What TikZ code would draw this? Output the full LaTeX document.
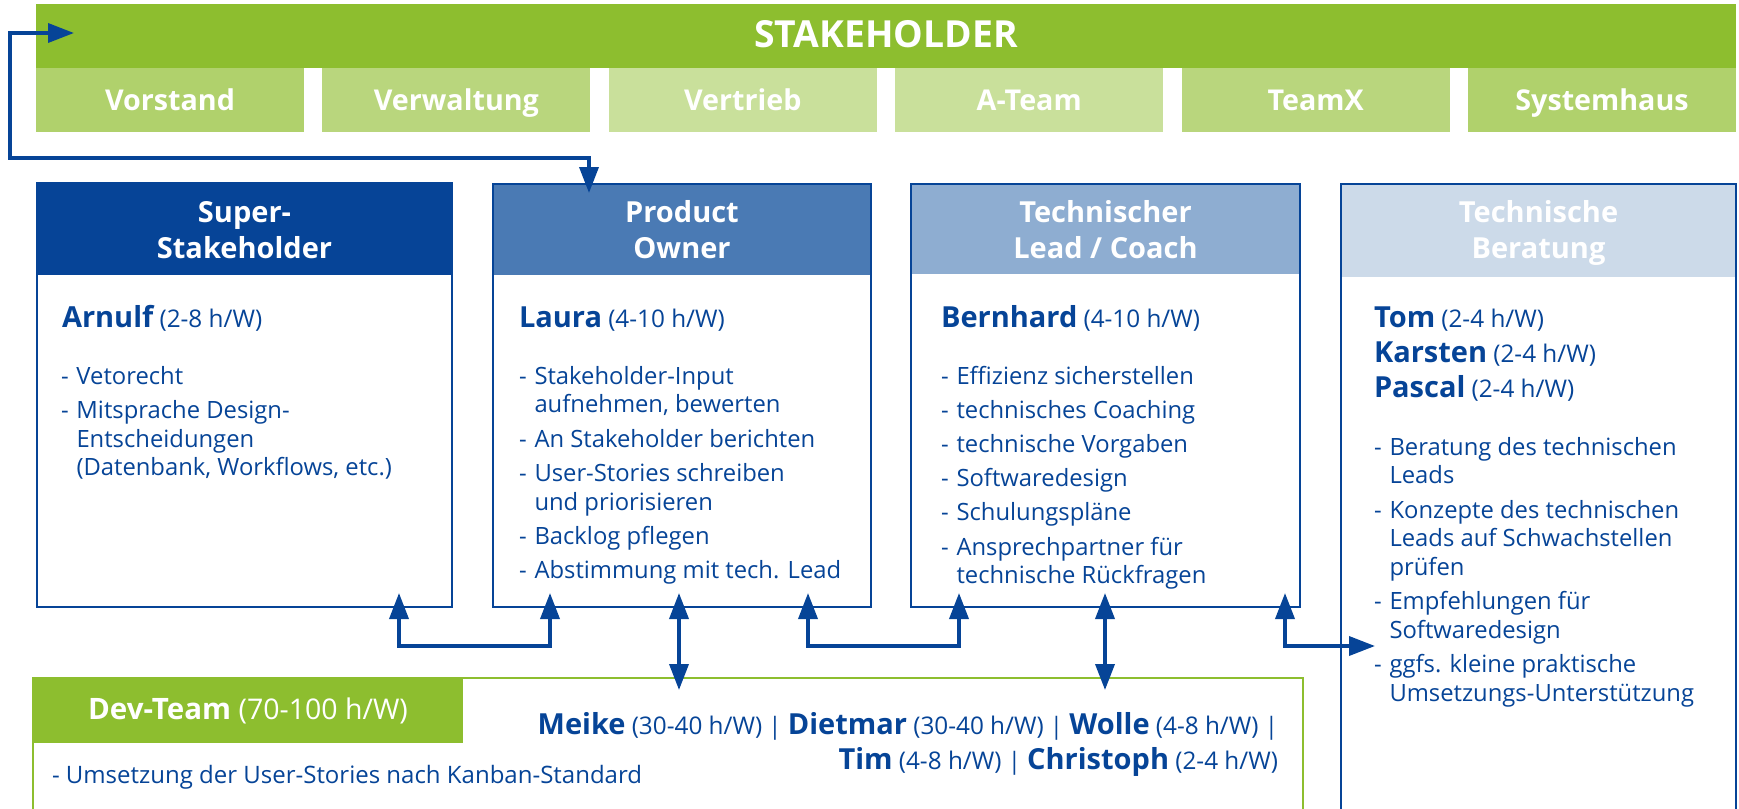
\documentclass[tikz,border=0pt]{standalone}
\usepackage{fontspec}
\setmainfont{Open Sans}
\usetikzlibrary{arrows.meta}

\definecolor{sgreen}{RGB}{141,190,47}
\definecolor{subA}{RGB}{176,209,108}
\definecolor{subB}{RGB}{185,214,125}
\definecolor{subC}{RGB}{201,224,155}
\definecolor{dblue}{RGB}{6,68,151}
\definecolor{mblue}{RGB}{74,122,180}
\definecolor{lblue}{RGB}{142,173,209}
\definecolor{pblue}{RGB}{204,218,233}

% a name in bold followed by its weekly hours
\newcommand\who[2]{{\fontsize{29}{34}\selectfont\bfseries #1} {\fontsize{24.3}{28}\selectfont(#2 h/W)}}
% one dash item of a list; continuation lines hang under the text
\newcommand\li[1]{\par\hangindent=15.5pt\hangafter=1\noindent\makebox[15.5pt][l]{-}#1}
\newcommand\dashlist[1]{\parbox[t]{420pt}{\fontsize{23.8}{28.8}\selectfont\parskip=5.4pt #1}}
\newcommand\hdtext[1]{\parbox[t]{400pt}{\centering\fontsize{29}{36}\selectfont\bfseries #1}}

\begin{document}
\begin{tikzpicture}[x=1pt,y=-1pt,
  every node/.style={inner sep=0pt, outer sep=0pt},
  bar/.style={anchor=north west, fill=sgreen, minimum width=1700pt, minimum height=64pt,
    text=white, font=\fontsize{37.3}{44}\selectfont\bfseries, text height=30pt, text depth=6pt},
  sub/.style={anchor=north west, minimum width=268pt, minimum height=64pt, text=white,
    font=\fontsize{28.7}{34}\selectfont\bfseries, text height=26pt, text depth=6pt},
  card/.style={anchor=north west, draw=dblue, line width=1.8pt},
  head/.style={anchor=north west, minimum height=91pt},
  htext/.style={anchor=base, text=white},
  body/.style={anchor=base west, text=dblue, font=\fontsize{23.8}{28.8}\selectfont},
  link/.style={draw=dblue, line width=3.6pt,
    {Triangle[length=26pt,width=19pt]}-{Triangle[length=26pt,width=19pt]}},
]
\useasboundingbox (0,0) rectangle (1739,808);

% stakeholder bar and its groups
\node[bar] (stk) at (36,4) {STAKEHOLDER};
\node[sub, fill=subA] (vorstand)   at (36,68)     {Vorstand};
\node[sub, fill=subB] (verwaltung) at (322.4,68)  {Verwaltung};
\node[sub, fill=subC] (vertrieb)   at (608.8,68)  {Vertrieb};
\node[sub, fill=subC] (ateam)      at (895.2,68)  {A-Team};
\node[sub, fill=subB] (teamx)      at (1181.6,68) {TeamX};
\node[sub, fill=subA] (systemhaus) at (1468,68)   {Systemhaus};

% Super-Stakeholder
\node[head, fill=dblue, minimum width=415pt, minimum height=92pt] (ss-h) at (37,183) {};
\node[card, minimum width=415pt, minimum height=424pt] (ss) at (37,183) {};
\node[htext] (ss-t) at (244.5,222) {\hdtext{Super-\\Stakeholder}};
\node[body] (ss-n) at (62,327) {\who{Arnulf}{2-8}};
\node[body] (ss-l) at (61,384) {\dashlist{%
  \li{Vetorecht}
  \li{Mitsprache Design-\\Entscheidungen\\(Datenbank, Workflows, etc.)}}};

% Product Owner
\node[head, fill=mblue, minimum width=378pt] (po-h) at (493,184) {};
\node[card, minimum width=378pt, minimum height=423pt] (po) at (493,184) {};
\node[htext] (po-t) at (682,222) {\hdtext{Product\\Owner}};
\node[body] (po-n) at (519,327) {\who{Laura}{4-10}};
\node[body] (po-l) at (519,384) {\dashlist{%
  \li{Stakeholder-Input\\aufnehmen, bewerten}
  \li{An Stakeholder berichten}
  \li{User-Stories schreiben\\und priorisieren}
  \li{Backlog pflegen}
  \li{Abstimmung mit tech. Lead}}};

% Technischer Lead / Coach
\node[head, fill=lblue, minimum width=389pt, minimum height=90pt] (tl-h) at (911,184) {};
\node[card, minimum width=389pt, minimum height=423pt] (tl) at (911,184) {};
\node[htext] (tl-t) at (1105.5,222) {\hdtext{Technischer\\Lead / Coach}};
\node[body] (tl-n) at (941,327) {\who{Bernhard}{4-10}};
\node[body] (tl-l) at (941,384) {\dashlist{%
  \li{Effizienz sicherstellen}
  \li{technisches Coaching}
  \li{technische Vorgaben}
  \li{Softwaredesign}
  \li{Schulungspläne}
  \li{Ansprechpartner für\\technische Rückfragen}}};

% Technische Beratung (runs past the lower edge)
\node[head, fill=pblue, minimum width=395pt, minimum height=93pt] (tb-h) at (1341,184) {};
\node[card, minimum width=395pt, minimum height=660pt] (tb) at (1341,184) {};
\node[htext] (tb-t) at (1538.5,222) {\hdtext{Technische\\Beratung}};
\node[body] (tb-n) at (1374,327) {\parbox[t]{360pt}{\fontsize{23.8}{35}\selectfont
  \who{Tom}{2-4}\\\who{Karsten}{2-4}\\\who{Pascal}{2-4}}};
\node[body] (tb-l) at (1374,455) {\dashlist{%
  \li{Beratung des technischen\\Leads}
  \li{Konzepte des technischen\\Leads auf Schwachstellen\\prüfen}
  \li{Empfehlungen für\\Softwaredesign}
  \li{ggfs. kleine praktische\\Umsetzungs-Unterstützung}}};

% Dev-Team (runs past the lower edge)
\node[anchor=north west, draw=sgreen, line width=1.8pt, minimum width=1270pt, minimum height=160pt] (dev) at (33,678) {};
\node[anchor=north west, fill=sgreen, minimum width=430pt, minimum height=65pt] (dev-h) at (33,678) {};
\node[anchor=base, text=white, font=\fontsize{28.5}{34}\selectfont] (dev-t) at (248,719)
  {{\fontsize{29.5}{34}\selectfont\bfseries Dev-Team} (70-100 h/W)};
\node[anchor=base east, text=dblue] (crew) at (1278,734) {\parbox[t]{800pt}{\raggedleft\fontsize{24}{35}\selectfont
  \who{Meike}{30-40} | \who{Dietmar}{30-40} | \who{Wolle}{4-8} |\hspace*{4pt}\\
  \who{Tim}{4-8} | \who{Christoph}{2-4}}};
\node[body, font=\fontsize{24}{29}\selectfont] (dev-l) at (52,783) {- Umsetzung der User-Stories nach Kanban-Standard};

% connector end points
\coordinate (stk-in) at (74,33);
\coordinate (po-top) at (589,193);
\coordinate (ss-b)  at (399,593);
\coordinate (po-bl) at (550,593);
\coordinate (po-bm) at (679,593);
\coordinate (po-br) at (808,593);
\coordinate (tl-bl) at (959,593);
\coordinate (tl-bm) at (1105,593);
\coordinate (tl-br) at (1285,593);
\coordinate (dev-a) at (679,690);
\coordinate (dev-b) at (1105,690);
\coordinate (tb-in) at (1375,646);

% connectors
\draw[link] (stk-in) -- ++(-64,0) -- ++(0,125) -| (po-top);
\draw[link] (ss-b) -- ++(0,53) -| (po-bl);
\draw[link] (po-bm) -- (dev-a);
\draw[link] (po-br) -- ++(0,53) -| (tl-bl);
\draw[link] (tl-bm) -- (dev-b);
\draw[link] (tl-br) |- (tb-in);
\end{tikzpicture}
\end{document}
